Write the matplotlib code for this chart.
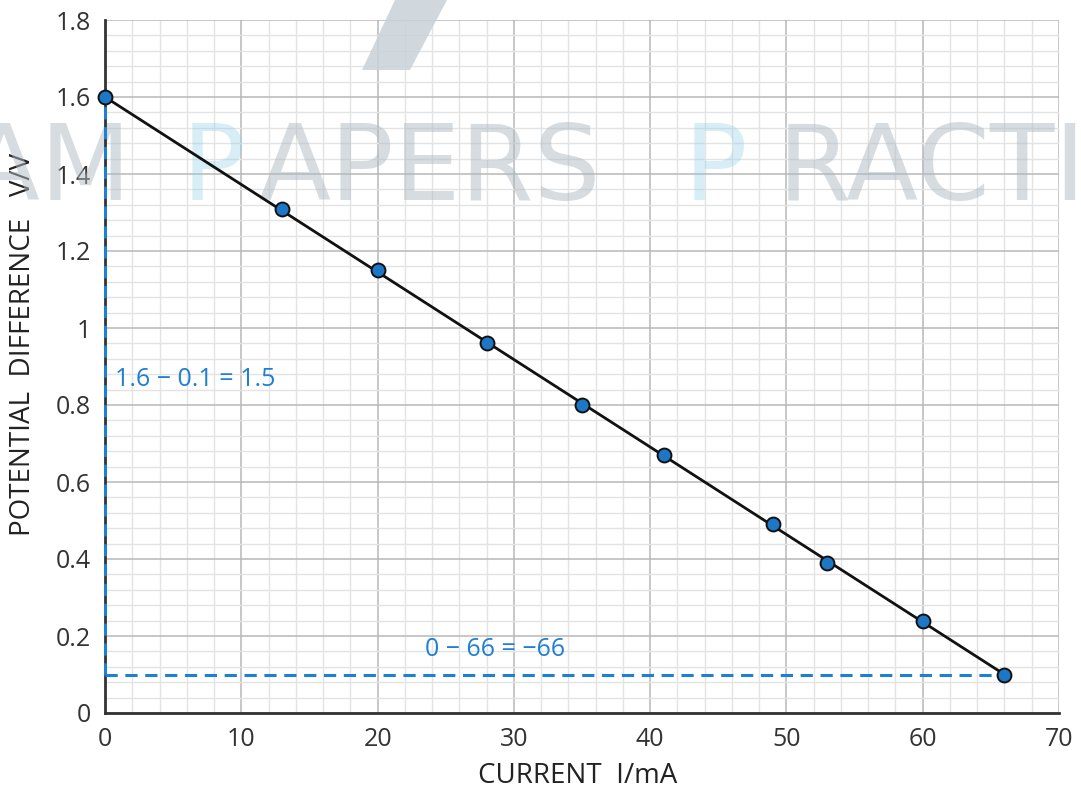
import matplotlib
matplotlib.use("Agg")
import matplotlib.pyplot as plt
from matplotlib.patches import Polygon
from matplotlib.ticker import MultipleLocator

# ---- data ----
current = [0, 13, 20, 28, 35, 41, 49, 53, 60, 66]
pot_diff = [1.60, 1.31, 1.15, 0.96, 0.80, 0.67, 0.49, 0.39, 0.24, 0.10]
fit_x = [0, 66]
fit_y = [1.6, 0.1]
x_ticks = [0, 10, 20, 30, 40, 50, 60, 70]
y_ticks = [0, 0.2, 0.4, 0.6, 0.8, 1.0, 1.2, 1.4, 1.6, 1.8]
y_tick_labels = ["0", "0.2", "0.4", "0.6", "0.8", "1", "1.2", "1.4", "1.6", "1.8"]
dy_text = "1.6 \u2212 0.1 = 1.5"
dx_text = "0 \u2212 66 = \u221266"

plt.rcParams['font.family'] = ['Open Sans', 'DejaVu Sans']

W, H = 1081, 790
fig = plt.figure(figsize=(W / 100, H / 100), dpi=100)
L, R, T, B = 105, 1059, 20, 713
ax = fig.add_axes([L / W, (H - B) / H, (R - L) / W, (B - T) / H])

ax.set_xlim(0, 70)
ax.set_ylim(0, 1.8)
ax.set_xticks(x_ticks)
ax.set_yticks(y_ticks)
ax.set_yticklabels(y_tick_labels)
ax.xaxis.set_minor_locator(MultipleLocator(2))
ax.yaxis.set_minor_locator(MultipleLocator(0.04))
ax.set_axisbelow(True)
ax.grid(which='minor', color='#e3e3e3', linewidth=1.0)
ax.grid(which='major', color='#b8b8b8', linewidth=1.1)
ax.tick_params(which='both', length=0)
ax.tick_params(axis='both', labelsize=18, colors='#333333')
ax.tick_params(axis='y', pad=10)
ax.tick_params(axis='x', pad=10)
for s in ['top', 'right']:
    ax.spines[s].set_visible(False)
for s in ['left', 'bottom']:
    ax.spines[s].set_color('#333333')
    ax.spines[s].set_linewidth(2)
    ax.spines[s].set_zorder(4)

# watermark
def px(x, y):
    return (x / W, (H - y) / H)

grey = '#aebbc3'
lblue = '#8fd0e6'
wm_kw = dict(transform=fig.transFigure, fontsize=76, family='DejaVu Sans',
             va='baseline', clip_on=False, zorder=1.5)
ax.text(*px(132, 200), "EXAM", ha='right', color=grey, alpha=0.5, **wm_kw)
ax.text(*px(182, 200), "P", ha='left', color=lblue, alpha=0.35, **wm_kw)
ax.text(*px(258, 200), "APERS", ha='left', color=grey, alpha=0.5, **wm_kw)
ax.text(*px(684, 200), "P", ha='left', color=lblue, alpha=0.35, **wm_kw)
ax.text(*px(778, 200), "RACTICE", ha='left', color=grey, alpha=0.5, **wm_kw)
poly = Polygon([px(395, 0), px(447, 0), px(410, 70), px(362, 70)], closed=True,
               transform=fig.transFigure, facecolor='#c9d2d8', edgecolor='none',
               alpha=0.85, clip_on=False, zorder=1.5)
ax.add_artist(poly)

blue = '#1f7fd0'
# dashed construction lines
ax.plot([0, 0], [fit_y[1], fit_y[0]], color=blue, linestyle=(0, (4, 2.5)),
        linewidth=2.2, zorder=5, clip_on=False)
ax.plot([0, fit_x[1]], [fit_y[1], fit_y[1]], color=blue, linestyle=(0, (4, 2.5)),
        linewidth=2.2, zorder=5)

# best-fit line and points
ax.plot(fit_x, fit_y, color='#111111', linewidth=2, zorder=6)
ax.plot(current, pot_diff, linestyle='none', marker='o', markersize=10,
        markerfacecolor='#1c77c6', markeredgecolor='#111111', markeredgewidth=1.4,
        zorder=7, clip_on=False)

ax.text(0.7, 0.865, dy_text, color=blue, fontsize=18, va='center', ha='left', zorder=8)
ax.text(23.5, 0.164, dx_text, color=blue, fontsize=18, va='center', ha='left', zorder=8)

ax.set_xlabel("CURRENT  I/mA", fontsize=20, color='#222222')
ax.set_ylabel("POTENTIAL  DIFFERENCE   V/V", fontsize=20, color='#222222')
ax.xaxis.set_label_coords(0.495, -0.071)
ax.yaxis.set_label_coords(-0.071, 0.532)

fig.savefig("out.png", dpi=100)
